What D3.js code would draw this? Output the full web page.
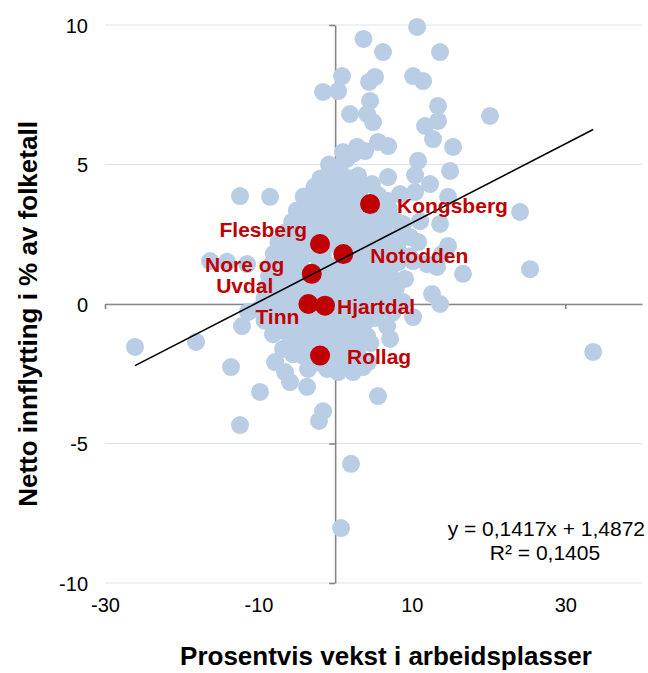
<!DOCTYPE html>
<html><head><meta charset="utf-8">
<script src="https://cdn.jsdelivr.net/npm/d3@7/dist/d3.min.js"></script>
<style>body{margin:0;background:#fff}</style>
</head><body><svg id="chart" width="648" height="673"></svg>
<script>
const xTicks = [-30, -10, 10, 30];
const yTicks = [-10, -5, 0, 5, 10];
const xTitle = "Prosentvis vekst i arbeidsplasser";
const yTitle = "Netto innflytting i % av folketall";
const equationText = "y = 0,1417x + 1,4872";
const r2Text = "R² = 0,1405";
const trendSlope = 0.1417;
const trendIntercept = 1.4872;

const highlightNames = ["Kongsberg", "Notodden", "Flesberg", "Nore og Uvdal", "Tinn", "Hjartdal", "Rollag"];
const highlightX = [4.55, 1.07, -1.97, -3.05, -3.49, -1.32, -1.97];
const highlightY = [3.58, 1.79, 2.15, 1.08, 0.0, -0.06, -1.85];

const otherX = [
 10.68,3.70,6.24,13.68,0.90,5.20,4.42,10.16,11.46,-1.58,0.38,4.55,13.41,1.94,4.16,20.19,13.41,11.72,4.94,12.76,
 15.37,5.59,6.90,3.90,2.86,1.03,10.81,14.98,6.90,10.42,12.37,8.46,10.42,14.72,24.10,5.85,8.85,11.07,13.68,9.76,
 10.81,14.72,13.94,10.16,11.98,13.28,7.55,16.67,25.41,9.11,12.63,13.68,8.85,10.16,6.77,7.16,4.16,4.29,5.59,2.07,
 0.77,33.63,-26.09,-18.13,-12.40,-8.49,-16.31,-14.09,-11.48,-13.57,-9.79,-12.40,-2.10,-1.58,-12.14,-11.36,-8.10,-6.79,-7.83,-6.53,
 -5.88,-3.66,-3.53,-1.06,0.38,2.33,3.64,
 -0.8,0.3,1.5,-1.9,-0.6,0.7,1.8,3.0,2.4,-2.7,-1.4,-0.2,1.1,2.3,3.5,4.8,
 -4.1,-3.0,-1.7,-0.5,0.8,2.0,3.2,5.6,6.8,-5.0,-3.7,-2.5,-1.2,0.1,1.4,2.6,5.9,7.0,
 -5.6,-4.4,-3.2,-1.9,-0.6,0.7,2.0,3.3,4.6,6.0,7.8,
 -6.3,-5.0,-3.8,-2.6,-1.3,0.0,1.3,2.6,3.9,5.2,6.5,8.7,
 -7.4,-6.1,-4.9,-3.6,-1.0,0.3,1.6,2.9,4.2,5.5,6.8,8.1,
 -8.0,-6.8,-5.5,-4.3,-2.9,-1.6,2.2,3.5,4.8,6.1,7.4,9.7,
 -8.3,-7.1,-5.8,-4.5,-2.0,-0.7,0.6,1.9,3.2,4.5,5.8,7.1,8.2,
 -8.6,-7.3,-6.0,-4.8,-1.8,-0.5,0.8,2.1,3.4,4.7,6.0,7.4,
 -8.9,-7.6,-6.4,-5.1,-3.9,-2.5,-1.2,0.1,1.4,2.7,4.0,5.3,6.6,7.9,
 -9.2,-7.9,-6.6,-5.3,-2.4,-0.9,0.5,1.8,3.1,4.4,5.7,7.0,
 -10.0,-8.6,-7.3,-6.0,-4.8,-0.3,1.0,2.3,3.6,4.9,6.2,7.5,
 -9.2,-7.8,-6.5,-5.2,-3.9,-2.6,-1.3,0.0,1.3,2.6,3.9,5.2,
 -7.0,-5.7,-4.4,-3.1,-1.8,-0.5,0.8,2.1,3.4,
 -5.8,-4.5,-3.2,-1.9,-0.6,0.7,2.0,3.3,4.6,
 -5.5,-4.2,-2.9,-1.0,0.3,1.6,2.9,
 -2.2,-0.4,1.0,2.6
];
const otherY = [
 9.93,9.50,9.03,9.03,8.17,8.14,7.96,8.17,7.99,7.60,7.63,7.28,7.10,6.81,6.81,6.74,6.56,6.38,6.52,5.91,
 5.63,5.81,5.66,5.48,5.63,5.45,5.13,4.77,4.55,4.62,4.30,3.94,4.01,3.84,3.30,2.97,2.87,2.97,2.87,2.40,
 2.22,2.08,1.79,1.54,1.43,1.33,1.43,1.08,1.25,0.90,0.36,0.00,0.07,-0.47,-0.79,-1.25,-1.15,-2.08,-3.30,-5.73,
 -8.03,-1.72,-1.54,-1.36,3.87,3.84,1.54,1.51,1.43,-2.26,-3.15,-4.34,-4.19,-3.84,-0.79,-0.29,-1.08,-1.61,-2.08,-2.44,
 -2.80,-2.97,-2.33,-2.33,-2.44,-2.44,-2.26,
 5.0,4.9,5.2,4.5,4.6,4.7,4.5,4.6,5.4,4.2,4.3,4.1,4.3,4.1,4.2,4.3,
 3.85,3.75,3.9,3.7,3.85,3.7,3.8,3.9,3.7,3.35,3.4,3.3,3.45,3.3,3.45,3.3,3.2,3.4,
 2.95,3.05,2.9,3.0,2.95,3.05,2.9,3.0,2.95,2.8,3.0,
 2.6,2.55,2.65,2.6,2.5,2.65,2.55,2.6,2.5,2.65,2.5,2.6,
 2.2,2.15,2.25,2.1,2.2,2.1,2.25,2.15,2.2,2.1,2.25,2.1,
 1.8,1.75,1.85,1.7,1.8,1.75,1.8,1.7,1.85,1.75,1.8,1.7,
 1.4,1.35,1.45,1.3,1.4,1.35,1.45,1.3,1.4,1.35,1.45,1.3,1.5,
 1.0,0.95,1.05,0.9,1.0,0.95,1.05,0.9,1.0,0.95,1.05,0.9,
 0.6,0.55,0.65,0.5,0.6,0.55,0.65,0.5,0.6,0.55,0.65,0.5,0.6,0.55,
 0.2,0.15,0.25,0.1,0.25,0.15,0.25,0.1,0.2,0.15,0.25,0.1,
 -0.2,-0.25,-0.15,-0.3,-0.2,-0.25,-0.15,-0.3,-0.2,-0.25,-0.15,-0.3,
 -0.6,-0.55,-0.65,-0.5,-0.6,-0.55,-0.65,-0.5,-0.6,-0.55,-0.65,-0.5,
 -0.95,-1.05,-0.9,-1.0,-0.95,-1.05,-0.9,-1.0,-0.95,
 -1.4,-1.35,-1.45,-1.3,-1.4,-1.35,-1.45,-1.3,-1.4,
 -1.8,-1.85,-1.75,-1.8,-1.85,-1.75,-1.8,
 -2.1,-2.0,-2.05,-1.95
];

// label placement (pixels relative to point) — styling, not data
const labelLayout = {
  "Kongsberg": {dx: 27, dy: 2, anchor: "start"},
  "Notodden": {dx: 27, dy: 2, anchor: "start"},
  "Flesberg": {dx: -13, dy: -14, anchor: "end"},
  "Nore og Uvdal": {dx: -67, dy: -9, anchor: "middle", lines: ["Nore og", "Uvdal"]},
  "Tinn": {dx: -9, dy: 13, anchor: "end"},
  "Hjartdal": {dx: 12, dy: 1, anchor: "start"},
  "Rollag": {dx: 27, dy: 1, anchor: "start"}
};

const svg = d3.select("#chart");
const font = "'Liberation Sans', Arial, sans-serif";
const x = d3.scaleLinear().domain([-30, 40]).range([105, 642]);
const y = d3.scaleLinear().domain([-10, 10]).range([583, 25]);

// gridlines
svg.append("g").selectAll("line").data(yTicks).join("line")
  .attr("x1", x(-30)).attr("x2", x(40))
  .attr("y1", d => y(d)).attr("y2", d => y(d))
  .attr("stroke", "#dae4f0").attr("stroke-width", 1.2);

// axes lines and ticks
const yAxis = svg.append("g").attr("transform", `translate(${x(0)},0)`)
  .call(d3.axisLeft(y).tickValues(yTicks).tickSize(6).tickSizeOuter(0).tickFormat(""));
const xAxis = svg.append("g").attr("transform", `translate(0,${y(0)})`)
  .call(d3.axisBottom(x).tickValues(xTicks).tickSize(5).tickSizeOuter(0).tickFormat(""));
[yAxis, xAxis].forEach(g => {
  g.selectAll("path,line").attr("stroke", "#878787").attr("stroke-width", 1.6);
});

// tick labels
const yLab = svg.append("g").attr("transform", `translate(88,0)`)
  .call(d3.axisLeft(y).tickValues(yTicks).tickSize(0).tickPadding(0).tickFormat(d3.format("d")));
const xLab = svg.append("g").attr("transform", `translate(0,597)`)
  .call(d3.axisBottom(x).tickValues(xTicks).tickSize(0).tickPadding(0).tickFormat(d3.format("d")));
[yLab, xLab].forEach(g => {
  g.select(".domain").remove();
  g.selectAll("text").attr("font-family", font).attr("font-size", 20).attr("fill", "#000");
});
yLab.selectAll("text").attr("dy", "0.35em");
xLab.selectAll("text").attr("dy", "0.75em");
[yLab, xLab].forEach(g => g.selectAll("text").text(d => String(d)));

// blue points
const others = otherX.map((v, i) => [v, otherY[i]]);
svg.append("g").selectAll("circle").data(others).join("circle")
  .attr("cx", d => x(d[0])).attr("cy", d => y(d[1])).attr("r", 9)
  .attr("fill", "#b9cde5");

// red points
const highlights = highlightNames.map((n, i) => ({name: n, x: highlightX[i], y: highlightY[i]}));
svg.append("g").selectAll("circle").data(highlights).join("circle")
  .attr("cx", d => x(d.x)).attr("cy", d => y(d.y)).attr("r", 10)
  .attr("fill", "#c00000");

// trendline over full data range
const allX = otherX.concat(highlightX);
const [xmin, xmax] = d3.extent(allX);
svg.append("line")
  .attr("x1", x(xmin)).attr("y1", y(trendSlope * xmin + trendIntercept))
  .attr("x2", x(xmax)).attr("y2", y(trendSlope * xmax + trendIntercept))
  .attr("stroke", "#000").attr("stroke-width", 1.6);

// labels
const lab = svg.append("g");
highlights.forEach(d => {
  const L = labelLayout[d.name];
  const lines = L.lines || [d.name];
  const t = lab.append("text")
    .attr("x", x(d.x) + L.dx).attr("y", y(d.y) + L.dy)
    .attr("text-anchor", L.anchor)
    .attr("font-family", font).attr("font-weight", "bold").attr("font-size", 21)
    .attr("fill", "#c00000");
  lines.forEach((s, i) => {
    t.append("tspan").attr("x", x(d.x) + L.dx)
      .attr("dy", i === 0 ? "0.35em" : "1.0em").text(s);
  });
});

// equation
svg.append("text").attr("x", 645).attr("y", 529).attr("dy", "0.35em")
  .attr("text-anchor", "end").attr("font-family", font).attr("font-size", 21)
  .text(equationText);
svg.append("text").attr("x", 545).attr("y", 553).attr("dy", "0.35em")
  .attr("text-anchor", "middle").attr("font-family", font).attr("font-size", 21)
  .text(r2Text);

// axis titles
svg.append("text").attr("transform", "translate(28,314) rotate(-90)")
  .attr("text-anchor", "middle").attr("dy", "0.35em")
  .attr("font-family", font).attr("font-weight", "bold").attr("font-size", 26)
  .text(yTitle);
svg.append("text").attr("x", 386).attr("y", 665)
  .attr("text-anchor", "middle")
  .attr("font-family", font).attr("font-weight", "bold").attr("font-size", 26)
  .text(xTitle);
</script></body></html>
